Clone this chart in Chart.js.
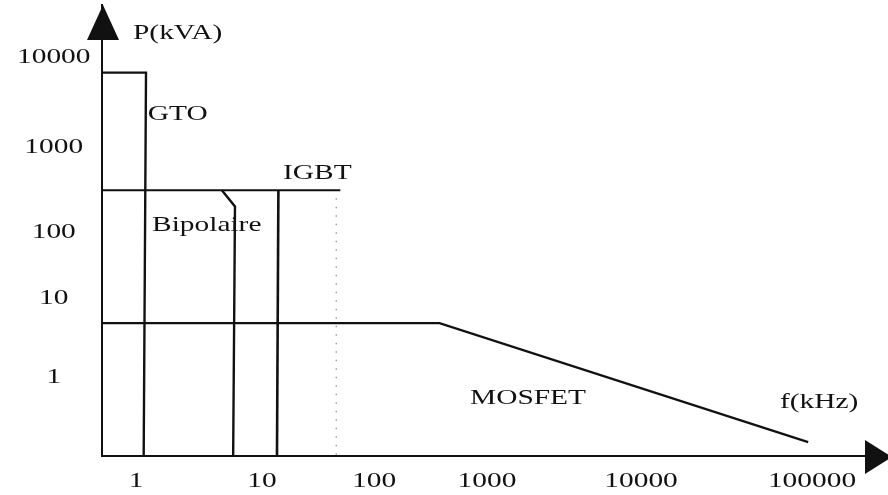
<!DOCTYPE html>
<html>
<head>
<meta charset="utf-8">
<script src="https://cdn.jsdelivr.net/npm/chart.js@4.4.1/dist/chart.umd.min.js"></script>
<style>
  html, body { margin: 0; padding: 0; background: #fff; }
  #wrap { width: 888px; height: 495px; }
</style>
</head>
<body>
<div id="wrap"><canvas id="chart" width="888" height="495"></canvas></div>
<script>
// Decade ticks: frequency (kHz) and power (kVA)
const freqTicks = [1, 10, 100, 1000, 10000, 100000];
const powerTicks = [1, 10, 100, 1000, 10000];

// Operating domains of the power switches, outlines as (f kHz, P kVA)
const gtoFreq = [0.5, 1.2, 1.15];
const gtoPower = [6700, 6700, 0.1];
const igbtTopFreq = [0.5, 50];
const igbtTopPower = [310, 310];
const igbtEdgeFreq = [14, 13.6];
const igbtEdgePower = [310, 0.1];
const bipolarFreq = [4.8, 6.1, 5.9];
const bipolarPower = [310, 200, 0.1];
const mosfetFreq = [0.5, 380, 95000];
const mosfetPower = [4.8, 4.8, 0.15];
const limitFreq = [46, 46];
const limitPower = [250, 0.1];

// Domain names and their anchor points (f kHz, P kVA)
const regionNames = ['GTO', 'IGBT', 'Bipolaire', 'MOSFET'];
const regionFreq = [1.24, 15.4, 1.34, 708];
const regionPower = [2270, 488, 118, 0.54];

const INK = '#111';
const FONT_FAMILY = '"Liberation Serif", "Times New Roman", serif';
const FONT_SIZE = 21;
const TEXT_STRETCH = 1.4;

// Log axis whose decades are spaced unevenly, as in the hand-drawn schematic
class DecadeScale extends Chart.Scale {
  determineDataLimits() {
    const v = this.options.stopValues;
    this.min = v[0];
    this.max = v[v.length - 1];
  }
  buildTicks() {
    return this.options.tickValues.map(value => ({ value }));
  }
  getLabelForValue(value) {
    return String(value);
  }
  _fraction(value) {
    const vs = this.options.stopValues, fs = this.options.stopFractions;
    const t = Math.log10(value);
    let i = 0;
    while (i < vs.length - 2 && t > Math.log10(vs[i + 1])) i++;
    const t0 = Math.log10(vs[i]), t1 = Math.log10(vs[i + 1]);
    return fs[i] + (t - t0) * (fs[i + 1] - fs[i]) / (t1 - t0);
  }
  getPixelForValue(value) {
    return this.getPixelForDecimal(this._fraction(value));
  }
  getValueForPixel(pixel) {
    const vs = this.options.stopValues, fs = this.options.stopFractions;
    const f = this.getDecimalForPixel(pixel);
    let i = 0;
    while (i < fs.length - 2 && f > fs[i + 1]) i++;
    const t0 = Math.log10(vs[i]), t1 = Math.log10(vs[i + 1]);
    return Math.pow(10, t0 + (f - fs[i]) * (t1 - t0) / (fs[i + 1] - fs[i]));
  }
}
DecadeScale.id = 'decade';
DecadeScale.defaults = {};
Chart.register(DecadeScale);

const pts = (xs, ys) => xs.map((x, i) => ({ x, y: ys[i] }));
const stroke = (width) => ({
  showLine: true, borderColor: INK, borderWidth: width, pointRadius: 0,
  fill: false, tension: 0, borderJoinStyle: 'miter', borderCapStyle: 'butt'
});

// Axis arrows, domain names and axis titles; text is drawn slightly widened
const schematicDecor = {
  id: 'schematicDecor',
  beforeDraw(chart) {
    const base = CanvasRenderingContext2D.prototype.fillText;
    chart.ctx.fillText = function (text, x, y, maxWidth) {
      this.save();
      this.translate(x, y);
      this.scale(TEXT_STRETCH, 1);
      if (maxWidth === undefined) base.call(this, text, 0, 0);
      else base.call(this, text, 0, 0, maxWidth / TEXT_STRETCH);
      this.restore();
    };
  },
  afterDatasetsDraw(chart) {
    const { ctx, chartArea: a, scales: { x, y } } = chart;
    ctx.save();
    ctx.fillStyle = INK;
    const ax = a.left + 1;
    ctx.beginPath();
    ctx.moveTo(ax, a.top);
    ctx.lineTo(ax - 16, a.top + 35);
    ctx.lineTo(ax + 16, a.top + 35);
    ctx.closePath();
    ctx.fill();
    const ay = a.bottom + 1;
    ctx.beginPath();
    ctx.moveTo(a.right + 4, ay);
    ctx.lineTo(a.right - 23, ay - 17);
    ctx.lineTo(a.right - 23, ay + 17);
    ctx.closePath();
    ctx.fill();

    ctx.font = FONT_SIZE + 'px ' + FONT_FAMILY;
    ctx.textAlign = 'left';
    ctx.textBaseline = 'middle';
    regionNames.forEach((name, i) => {
      ctx.fillText(name, x.getPixelForValue(regionFreq[i]), y.getPixelForValue(regionPower[i]));
    });
    ctx.fillText('P(kVA)', a.left + 31, a.top + 28);
    ctx.fillText('f(kHz)', a.right - 108, a.bottom - 54);
    ctx.restore();
  },
  afterDraw(chart) {
    delete chart.ctx.fillText;
  }
};

const axisCommon = {
  type: 'decade',
  grid: { display: false, drawTicks: false },
  border: { display: true, color: INK, width: 2 },
};

new Chart(document.getElementById('chart'), {
  type: 'scatter',
  data: {
    datasets: [
      { label: 'GTO', data: pts(gtoFreq, gtoPower), ...stroke(2.4) },
      { label: 'IGBT', data: pts(igbtTopFreq, igbtTopPower), ...stroke(2.2) },
      { label: 'IGBT', data: pts(igbtEdgeFreq, igbtEdgePower), ...stroke(2.6) },
      { label: 'Bipolaire', data: pts(bipolarFreq, bipolarPower), ...stroke(2.4) },
      { label: 'MOSFET', data: pts(mosfetFreq, mosfetPower), ...stroke(2.2) },
      { label: 'limite', data: pts(limitFreq, limitPower), ...stroke(1.4),
        borderColor: '#9a9a9a', borderDash: [1.5, 7] }
    ]
  },
  options: {
    responsive: false,
    animation: false,
    events: [],
    layout: { padding: { top: 5, right: 0, bottom: 0, left: 0 } },
    plugins: { legend: { display: false }, tooltip: { enabled: false } },
    scales: {
      x: {
        ...axisCommon,
        position: 'bottom',
        stopValues: [0.5, 1, 10, 100, 1000, 10000, 100000, 300000],
        stopFractions: [0, 0.0433, 0.2036, 0.3461, 0.4898, 0.6858, 0.9033, 1],
        tickValues: freqTicks,
        ticks: {
          color: INK, padding: 13, autoSkip: false, maxRotation: 0, minRotation: 0,
          font: { family: FONT_FAMILY, size: FONT_SIZE },
          callback: v => String(v)
        },
        afterFit(s) { s.height = 39; s.paddingLeft = 0; s.paddingRight = 0; }
      },
      y: {
        ...axisCommon,
        position: 'left',
        stopValues: [0.1, 1, 10, 100, 1000, 10000, 40000],
        stopFractions: [0, 0.1752, 0.3503, 0.4967, 0.6851, 0.8847, 1],
        tickValues: powerTicks,
        ticks: {
          color: INK, padding: 22, crossAlign: 'center', autoSkip: false,
          font: { family: FONT_FAMILY, size: FONT_SIZE },
          callback: v => String(v)
        },
        afterFit(s) { s.width = 102; s.paddingTop = 0; s.paddingBottom = 0; }
      }
    }
  },
  plugins: [schematicDecor]
});
</script>
</body>
</html>
